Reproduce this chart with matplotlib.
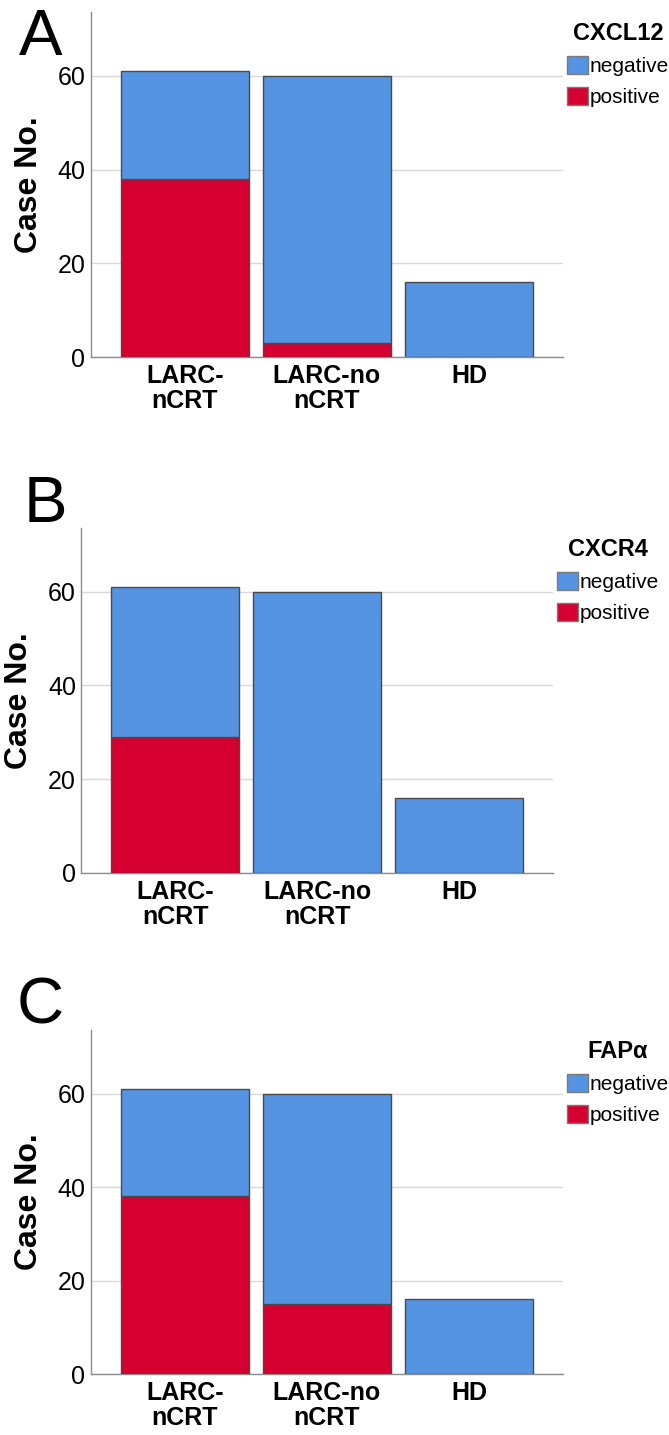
import matplotlib
matplotlib.use("Agg")
import matplotlib.pyplot as plt
from matplotlib.patches import Patch

plt.rcParams['font.family'] = ['Liberation Sans', 'DejaVu Sans']

groups = ['LARC-\nnCRT', 'LARC-no\nnCRT', 'HD']
markers = ['CXCL12', 'CXCR4', 'FAPα']
panel_letters = ['A', 'B', 'C']

# positive / negative case counts per group
cxcl12_pos = [38, 3, 0]
cxcl12_neg = [23, 57, 16]
cxcr4_pos = [29, 0, 0]
cxcr4_neg = [32, 60, 16]
fap_pos = [38, 15, 0]
fap_neg = [23, 45, 16]

pos_data = [cxcl12_pos, cxcr4_pos, fap_pos]
neg_data = [cxcl12_neg, cxcr4_neg, fap_neg]

blue = '#5594e2'
red = '#d5002f'
edge = '#4a4a4a'

fig = plt.figure(figsize=(6.69, 14.35), dpi=100)

# axes boxes (left, bottom, width, height) in figure fraction
boxes = [
    [0.136, 0.7512, 0.7055, 0.2404],
    [0.1218, 0.3918, 0.7048, 0.2403],
    [0.136, 0.0425, 0.7055, 0.2397],
]
letter_pos = [(0.028, 0.9617), (0.036, 0.6362), (0.025, 0.2871)]

for i in range(3):
    ax = fig.add_axes(boxes[i])
    x = range(len(groups))
    ax.bar(x, pos_data[i], width=0.9, color=red, edgecolor=edge, linewidth=1, zorder=3)
    ax.bar(x, neg_data[i], width=0.9, bottom=pos_data[i], color=blue,
           edgecolor=edge, linewidth=1, zorder=3)
    ax.set_xlim(-0.66, 2.66)
    ax.set_ylim(0, 73.6)
    ax.set_yticks([0, 20, 40, 60])
    ax.set_xticks(list(x))
    ax.set_xticklabels(groups, fontsize=18, fontweight='bold', linespacing=1.05)
    ax.tick_params(axis='both', length=0)
    ax.tick_params(axis='y', labelsize=18, pad=4)
    ax.tick_params(axis='x', pad=5)
    ax.yaxis.grid(True, color='#d9d9d9', linewidth=1, zorder=0)
    ax.set_axisbelow(True)
    for s in ['top', 'right']:
        ax.spines[s].set_visible(False)
    for s in ['left', 'bottom']:
        ax.spines[s].set_color('#8c8c8c')
        ax.spines[s].set_linewidth(1)
    ax.set_ylabel('Case No.', fontsize=23, fontweight='bold', labelpad=10)

    handles = [Patch(facecolor=blue, edgecolor='#7a7a7a', label='negative'),
               Patch(facecolor=red, edgecolor='#7a7a7a', label='positive')]
    leg = ax.legend(handles=handles, title=markers[i], loc='upper left',
                    bbox_to_anchor=(1.008, 0.97), frameon=False, fontsize=15,
                    handlelength=1.0, handleheight=1.0, handletextpad=0.1,
                    labelspacing=0.5, borderpad=0, borderaxespad=0)
    leg.get_title().set_fontsize(17)
    leg.get_title().set_fontweight('bold')

    fig.text(letter_pos[i][0], letter_pos[i][1], panel_letters[i], fontsize=47,
             va='baseline', ha='left')

fig.savefig('out.png', dpi=100)
